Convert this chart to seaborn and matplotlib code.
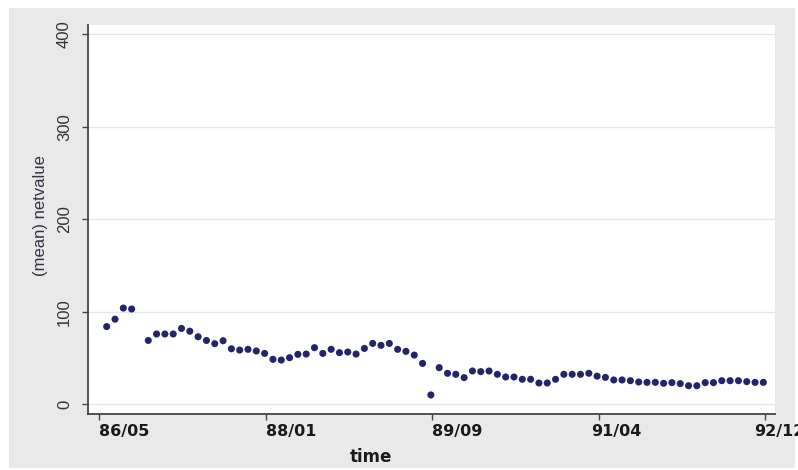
import numpy as np
import pandas as pd
import matplotlib
matplotlib.use("Agg")
import matplotlib.pyplot as plt
import matplotlib.transforms as mtransforms
from matplotlib.patches import Rectangle
import seaborn as sns

# Monthly mean of netvalue (one month has no observation)
netvalue = [84, 92, 104, 103, np.nan, 69, 76, 76, 76, 82,
            79, 73, 69, 65.5, 68.7, 60, 58.6, 59.4, 57.6, 55,
            48.6, 47.8, 50.4, 54, 54.3, 61.2, 55, 59.4, 55.8, 56.5,
            54.3, 60.4, 65.8, 63.7, 65.8, 59.4, 57.2, 53.2, 44.2, 10.1,
            39.6, 33.5, 32.4, 28.8, 36, 35.3, 36, 32.4, 29.5, 29.5,
            27, 27, 23, 23, 27, 32.4, 32.4, 32.4, 33.5, 30.4,
            29.1, 26.3, 26.3, 25.5, 24.1, 23.7, 23.7, 22.7, 23.4, 22.3,
            20.1, 20.1, 23.4, 23.4, 25.5, 25.5, 25.5, 24.5, 23.7, 23.7]
month_index = np.arange(len(netvalue))

x_tick_labels = ["86/05", "88/01", "89/09", "91/04", "92/12"]
y_ticks = [0, 100, 200, 300, 400]

df = pd.DataFrame({"time": month_index, "netvalue": netvalue})

sns.set_style("white")
plt.rcParams["font.family"] = ["Liberation Sans", "DejaVu Sans"]

W, H = 798, 470
fig = plt.figure(figsize=(W / 100, H / 100), dpi=100)
fig.patch.set_facecolor("white")

# light grey graph region behind the plot area
fig.patches.append(Rectangle((9 / W, 2 / H), 786 / W, 460 / H,
                             transform=fig.transFigure, facecolor="#e9e9e9",
                             edgecolor="none", zorder=-5))

ax = fig.add_axes([88 / W, (H - 414) / H, (775 - 88) / W, (414 - 25) / H])
ax.set_zorder(2)
ax.set_facecolor("white")

sns.scatterplot(data=df, x="time", y="netvalue", ax=ax, s=26,
                color="#24246a", edgecolor="none", linewidth=0, zorder=3)

ax.set_xlim(-2.25, 80.4)
ax.set_ylim(-10.5, 410)

# axis ticks evenly spread over the date range
x_ticks = np.linspace(-0.9, 79.2, len(x_tick_labels))
ax.set_xticks(x_ticks)
ax.set_xticklabels(x_tick_labels, fontfamily="DejaVu Sans",
                   fontweight="bold", fontsize=11.5, color="#1a1a1a", ha="left")

ax.set_yticks(y_ticks)
ax.set_yticklabels([str(v) for v in y_ticks], fontsize=12, color="#333333",
                   rotation=90, va="center")

ax.tick_params(axis="both", which="both", direction="out", length=4.5,
               width=1.0, color="#444444")
ax.tick_params(axis="x", pad=3, bottom=True)
ax.tick_params(axis="y", pad=7, left=True)

# nudge the last date labels leftwards
shifts = [0, 0, 0, -7, -11]
for lab, dx in zip(ax.get_xticklabels(), shifts):
    lab.set_transform(lab.get_transform() +
                      mtransforms.ScaledTranslation(dx / 100, 0, fig.dpi_scale_trans))

ax.yaxis.grid(True, color="#e6e6e6", linewidth=1.0, zorder=0)
ax.xaxis.grid(False)
ax.set_axisbelow(True)

for side in ["top", "right"]:
    ax.spines[side].set_visible(False)
for side in ["left", "bottom"]:
    ax.spines[side].set_color("#444444")
    ax.spines[side].set_linewidth(1.3)

ax.set_xlabel("time", fontfamily="DejaVu Sans", fontweight="bold",
              fontsize=12, color="#1a1a1a")
ax.xaxis.set_label_coords((371 - 88) / 687, (414 - 457) / 389)
ax.xaxis.label.set_va("center")

ax.set_ylabel("(mean) netvalue", fontsize=12, color="#333344")
ax.yaxis.set_label_coords((41 - 88) / 687, 0.51)
ax.yaxis.label.set_va("center")

fig.savefig("out.png", dpi=100)
